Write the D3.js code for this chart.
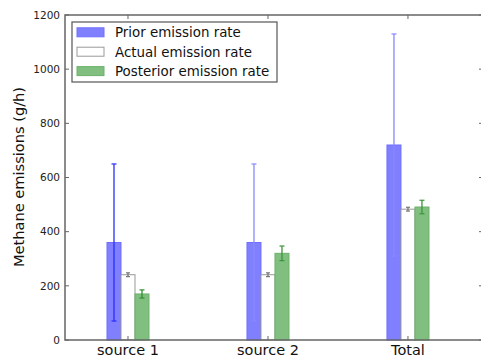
<!DOCTYPE html>
<html>
<head>
<meta charset="utf-8">
<script src="https://cdn.jsdelivr.net/npm/d3@7"></script>
<style>
  html, body { margin: 0; padding: 0; background: #fff; }
  svg { display: block; font-family: 'DejaVu Sans', sans-serif; }
</style>
</head>
<body>
<div id="chart"></div>
<script>
// values
const categories = ['source 1', 'source 2', 'Total']
const prior = [360, 360, 720]
const priorErr = [290, 290, 410]
const actual = [241, 241, 483]
const actualErr = [7, 7, 7]
const posterior = [170, 320, 491]
const posteriorErr = [15, 27, 25]
const yTicks = [0, 200, 400, 600, 800, 1000, 1200]
const legendLabels = ['Prior emission rate', 'Actual emission rate', 'Posterior emission rate']

const W = 481, H = 357
const m = { left: 65, right: 483, top: 15, bottom: 340 }

const svg = d3.select('#chart').append('svg')
  .attr('width', W).attr('height', H)

const x = d3.scaleLinear().domain([-0.45, 2.536]).range([m.left, m.right])
const y = d3.scaleLinear().domain([0, 1200]).range([m.bottom, m.top])
const barW = 0.1

const series = [
  { vals: prior, err: priorErr, off: -0.1, fill: '#8080ff', stroke: '#6e6eff',
    errColor: ['#2a2aff', '#8888ff', '#8888ff'], cap: 5 },
  { vals: actual, err: actualErr, off: 0, fill: '#ffffff', stroke: '#999999',
    errColor: ['#777', '#777', '#777'], cap: 4 },
  { vals: posterior, err: posteriorErr, off: 0.1, fill: '#80bf80', stroke: '#6cb16c',
    errColor: ['#2f8f2f', '#3a963a', '#3a963a'], cap: 5 }
]

// bars
series.forEach(s => {
  svg.append('g').selectAll('rect')
    .data(s.vals)
    .join('rect')
    .attr('x', (d, i) => x(i + s.off - barW / 2))
    .attr('width', x(barW) - x(0))
    .attr('y', d => y(d))
    .attr('height', d => y(0) - y(d))
    .attr('fill', s.fill)
    .attr('stroke', s.stroke)
    .attr('stroke-width', 1)
})

// error bars
series.forEach(s => {
  const g = svg.append('g')
  s.vals.forEach((v, i) => {
    const cx = x(i + s.off)
    const lo = y(v - s.err[i]), hi = y(v + s.err[i])
    const c = s.errColor[i]
    g.append('line').attr('x1', cx).attr('x2', cx).attr('y1', lo).attr('y2', hi)
      .attr('stroke', c).attr('stroke-width', 1.3)
    ;[lo, hi].forEach(yy => {
      g.append('line').attr('x1', cx - s.cap / 2).attr('x2', cx + s.cap / 2)
        .attr('y1', yy).attr('y2', yy)
        .attr('stroke', c).attr('stroke-width', 1.2)
    })
  })
})

// frame
svg.append('rect')
  .attr('x', m.left).attr('y', m.top)
  .attr('width', m.right - m.left).attr('height', m.bottom - m.top)
  .attr('fill', 'none').attr('stroke', '#666').attr('stroke-width', 1.5)

// ticks, inward on all sides
const tickG = svg.append('g').attr('stroke', '#666').attr('stroke-width', 1)
yTicks.forEach(t => {
  tickG.append('line').attr('x1', m.left).attr('x2', m.left + 4).attr('y1', y(t)).attr('y2', y(t))
  tickG.append('line').attr('x1', m.right - 4).attr('x2', m.right).attr('y1', y(t)).attr('y2', y(t))
})
categories.forEach((c, i) => {
  tickG.append('line').attr('x1', x(i)).attr('x2', x(i)).attr('y1', m.bottom).attr('y2', m.bottom - 4)
  tickG.append('line').attr('x1', x(i)).attr('x2', x(i)).attr('y1', m.top).attr('y2', m.top + 4)
})

// y tick labels
svg.append('g').selectAll('text')
  .data(yTicks)
  .join('text')
  .attr('x', m.left - 5).attr('y', d => y(d))
  .attr('dy', '0.35em')
  .attr('text-anchor', 'end')
  .style('font-size', '10.5px')
  .attr('fill', '#222')
  .text(d => d)

// x tick labels
svg.append('g').selectAll('text')
  .data(categories)
  .join('text')
  .attr('x', (d, i) => x(i)).attr('y', 355)
  .attr('text-anchor', 'middle')
  .style('font-size', '14.5px')
  .attr('fill', '#111')
  .text(d => d)

// y axis label
svg.append('text')
  .attr('transform', 'translate(24,177) rotate(-90)')
  .attr('text-anchor', 'middle')
  .style('font-size', '14.6px')
  .attr('fill', '#111')
  .text('Methane emissions (g/h)')

// legend
const leg = svg.append('g')
leg.append('rect')
  .attr('x', 72).attr('y', 22).attr('width', 205).attr('height', 60)
  .attr('fill', '#fff').attr('stroke', '#555').attr('stroke-width', 1.2)
legendLabels.forEach((lab, i) => {
  const yy = 32.3 + i * 19.4
  leg.append('rect')
    .attr('x', 77).attr('y', yy - 4.5).attr('width', 27).attr('height', 9)
    .attr('fill', series[i].fill).attr('stroke', series[i].stroke).attr('stroke-width', 1)
  leg.append('text')
    .attr('x', 115).attr('y', yy).attr('dy', '0.36em')
    .style('font-size', '13.4px')
    .attr('fill', '#111')
    .text(lab)
})
</script>
</body>
</html>
